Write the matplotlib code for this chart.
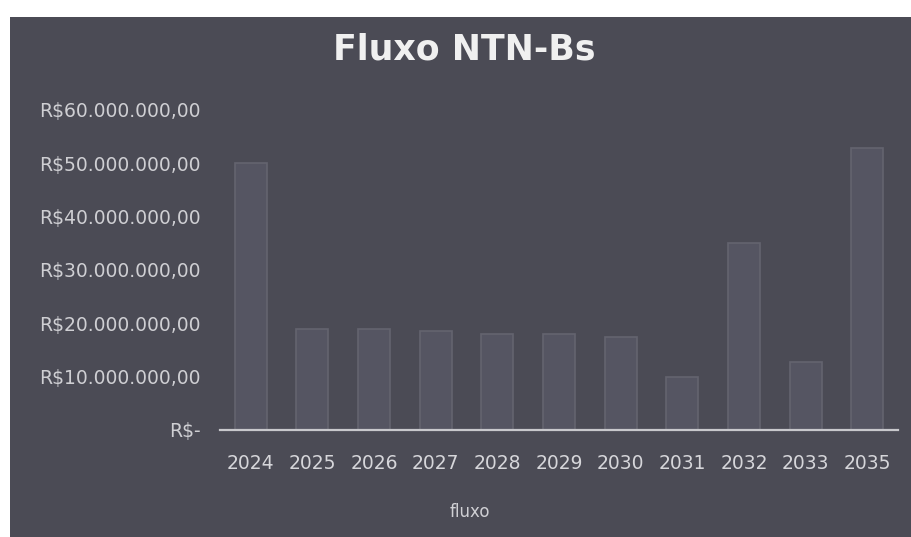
import matplotlib
matplotlib.use("Agg")
import matplotlib.pyplot as plt
from matplotlib.patches import Rectangle
from matplotlib.ticker import FuncFormatter

years = ["2024", "2025", "2026", "2027", "2028", "2029", "2030", "2031", "2032", "2033", "2035"]
fluxo = [50.0e6, 19.0e6, 19.0e6, 18.5e6, 18.0e6, 18.0e6, 17.5e6, 10.0e6, 35.0e6, 12.7e6, 52.8e6]
yticks = [0, 10e6, 20e6, 30e6, 40e6, 50e6, 60e6]

W, H = 911, 537
fig = plt.figure(figsize=(W / 100, H / 100), dpi=100)
fig.patch.set_facecolor("white")
bg = "#4b4b55"
fig.patches.append(Rectangle((10 / W, 0), 1 - 10 / W, (H - 17) / H,
                             transform=fig.transFigure, facecolor=bg,
                             edgecolor="none", zorder=-10))

left, right = 220 / W, 898 / W
bottom, top = (H - 430) / H, (H - 110) / H
ax = fig.add_axes([left, bottom, right - left, top - bottom])
ax.set_facecolor("none")
ax.set_zorder(5)

x = list(range(len(years)))
ax.bar(x, fluxo, width=0.52, color="#555562", edgecolor="#64646f", linewidth=1.2, zorder=2)
ax.set_xlim(-0.5, len(years) - 0.5)
ax.set_ylim(0, 60e6)

def fmt(v, pos):
    if v == 0:
        return "R$-"
    s = f"{v:,.2f}".replace(",", "X").replace(".", ",").replace("X", ".")
    return "R$" + s

ax.yaxis.set_major_formatter(FuncFormatter(fmt))
ax.set_yticks(yticks)
ax.set_xticks(x)
ax.set_xticklabels(years)
for s in ["top", "right", "left"]:
    ax.spines[s].set_visible(False)
ax.spines["bottom"].set_color("#c8c8cc")
ax.spines["bottom"].set_linewidth(1.6)
ax.tick_params(axis="y", length=0, pad=14, colors="#cfcfd3", labelsize=13.5)
ax.tick_params(axis="x", length=0, pad=17, colors="#d6d6da", labelsize=13.5)

fig.text(464 / W, (H - 50) / H, "Fluxo NTN-Bs", ha="center", va="center",
         fontsize=25, fontweight="bold", color="#f0f0f0", zorder=6)
fig.text(470 / W, (H - 512) / H, "fluxo", ha="center", va="center",
         fontsize=12, color="#d0d0d4", zorder=6)

fig.savefig("out.png", dpi=100, facecolor=fig.get_facecolor())
